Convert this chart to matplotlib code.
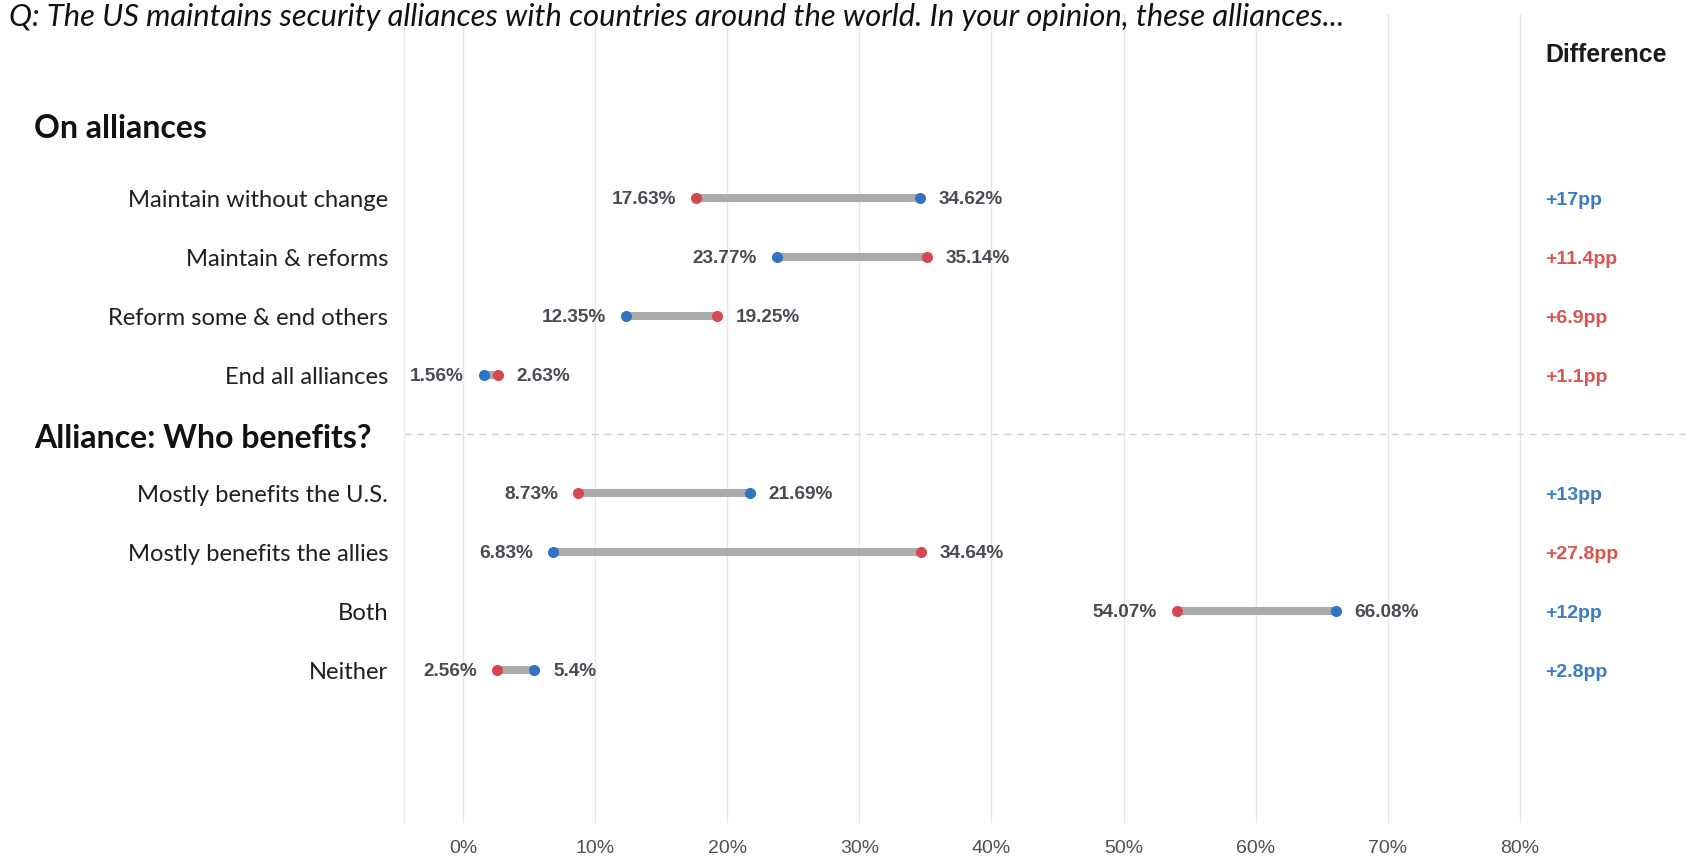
import matplotlib
matplotlib.use("Agg")
import matplotlib.pyplot as plt
import matplotlib.transforms as mtransforms

# ---------------- data ----------------
question = ("Q: The US maintains security alliances with countries around the world. "
            "In your opinion, these alliances...")
group_titles = ["On alliances", "Alliance: Who benefits?"]
cats_alliances = ["Maintain without change", "Maintain & reforms",
                  "Reform some & end others", "End all alliances"]
cats_benefits = ["Mostly benefits the U.S.", "Mostly benefits the allies",
                 "Both", "Neither"]
blue_alliances = [34.62, 23.77, 12.35, 1.56]
red_alliances = [17.63, 35.14, 19.25, 2.63]
blue_benefits = [21.69, 6.83, 66.08, 5.4]
red_benefits = [8.73, 34.64, 54.07, 2.56]
x_ticks = [0, 10, 20, 30, 40, 50, 60, 70, 80]
x_tick_labels = ["0%", "10%", "20%", "30%", "40%", "50%", "60%", "70%", "80%"]
diff_header = "Difference"

# ---------------- style ----------------
BLUE = "#2f74c2"
RED = "#d6474f"
BLUE_TXT = "#3a7bc8"
RED_TXT = "#d9534f"
SEG = "#ababab"
VAL_TXT = "#4a4a53"
LABEL_FONT = ["Lato", "DejaVu Sans"]
NUM_FONT = ["Liberation Sans", "DejaVu Sans"]

W, H = 1686, 858
fig = plt.figure(figsize=(W / 100, H / 100), dpi=100)
fig.patch.set_facecolor("white")

ax = fig.add_axes([404 / W, 35 / H, 1282 / W, 809 / H])
ax.set_xlim(-4.466, 92.58)
ax.set_ylim(10.593, -3.119)

cats = cats_alliances + cats_benefits
blue = blue_alliances + blue_benefits
red = red_alliances + red_benefits
rows = list(range(len(cats_alliances))) + [len(cats_alliances) + 1 + i for i in range(len(cats_benefits))]

# grid / spines
ax.set_xticks(x_ticks)
ax.set_xticklabels(x_tick_labels, fontfamily=NUM_FONT)
ax.grid(axis="x", color="#e6e6e6", lw=1)
ax.set_axisbelow(True)
for s in ["top", "right", "bottom"]:
    ax.spines[s].set_visible(False)
ax.spines["left"].set_color("#ececec")
ax.tick_params(axis="x", length=0, pad=12, labelsize=14, labelcolor="#505050")

ax.set_yticks(rows)
ax.set_yticklabels(cats, fontfamily=LABEL_FONT)
ax.tick_params(axis="y", length=0, pad=11.5, labelsize=17.1, labelcolor="#1f1f1f")

# dashed separator
ax.axhline(len(cats_alliances), color="#cfcfcf", lw=1, ls=(0, (5, 4)))

# dumbbells
lo = [min(b, r) for b, r in zip(blue, red)]
hi = [max(b, r) for b, r in zip(blue, red)]
ax.hlines(rows, lo, hi, color=SEG, lw=5.8, zorder=2)
ax.plot(blue, rows, "o", ms=8, color=BLUE, mew=0, zorder=3)
ax.plot(red, rows, "o", ms=8, color=RED, mew=0, zorder=3)

for y, a, b in zip(rows, lo, hi):
    ax.annotate(f"{a:g}%", xy=(a, y), xytext=(-14.5, -1.2), textcoords="offset points",
                ha="right", va="center", fontsize=13.7, fontweight="bold",
                color=VAL_TXT, fontfamily=NUM_FONT)
    ax.annotate(f"{b:g}%", xy=(b, y), xytext=(13.5, -1.2), textcoords="offset points",
                ha="left", va="center", fontsize=13.7, fontweight="bold",
                color=VAL_TXT, fontfamily=NUM_FONT)

# difference column
tr_diff = mtransforms.blended_transform_factory(ax.transAxes, ax.transData)
diff_x = (1545 - 404) / 1282
ax.text(diff_x, -2.43, diff_header, transform=tr_diff, ha="left", va="center",
        fontsize=17.9, fontweight="bold", color="#1a1a1a", fontfamily=NUM_FONT)
for y, b, r in zip(rows, blue, red):
    d = round(abs(b - r), 1)
    col = BLUE_TXT if b > r else RED_TXT
    ax.text(diff_x, y + 0.04, f"+{d:g}pp", transform=tr_diff, ha="left", va="center",
            fontsize=14, fontweight="bold", color=col, fontfamily=NUM_FONT)

# group headers
tr_head = mtransforms.blended_transform_factory(fig.transFigure, ax.transData)
fig.text(34 / W, -1.17, group_titles[0], transform=tr_head, ha="left", va="center",
         fontsize=23, fontweight="bold", color="#111111", fontfamily=LABEL_FONT)
fig.text(34 / W, len(cats_alliances) + 0.08, group_titles[1], transform=tr_head,
         ha="left", va="center", fontsize=23, fontweight="bold", color="#111111",
         fontfamily=LABEL_FONT)

# question
fig.text(9 / W, 1 - 17 / H, question, ha="left", va="center", fontsize=22.2,
         style="italic", color="#111111", fontfamily=LABEL_FONT)

fig.savefig("out.png", dpi=100, facecolor="white")
